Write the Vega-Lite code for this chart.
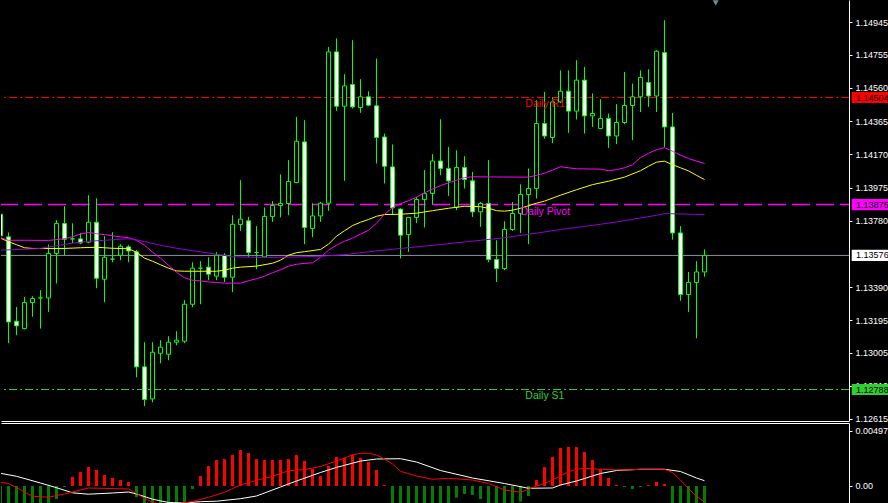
{
  "$schema": "https://vega.github.io/schema/vega-lite/v6.json",
  "background": "#000000",
  "padding": 0,
  "spacing": 2,
  "bounds": "flush",
  "resolve": {"scale": {"stroke": "independent", "fill": "independent", "x": "independent", "y": "independent"}},
  "config": {
    "view": {"stroke": null},
    "scale": {"continuousPadding": 0},
    "axis": {"grid": false, "title": null, "labelFont": "Liberation Sans", "labelFontSize": 9, "labelColor": "#ffffff", "domainColor": "#ffffff", "tickColor": "#ffffff", "labelOverlap": false, "labelBound": false},
    "text": {"font": "Liberation Sans"}
  },
  "datasets": {
    "candles": [
      {"n":0,"o":1.13818,"h":1.13842,"l":1.13677,"c":1.13691},
      {"n":1,"o":1.13685,"h":1.13711,"l":1.13060,"c":1.13185},
      {"n":2,"o":1.13189,"h":1.13273,"l":1.13107,"c":1.13162},
      {"n":3,"o":1.13146,"h":1.13332,"l":1.13142,"c":1.13299},
      {"n":4,"o":1.13299,"h":1.13336,"l":1.13215,"c":1.13323},
      {"n":5,"o":1.13326,"h":1.13372,"l":1.13146,"c":1.13326},
      {"n":6,"o":1.13326,"h":1.13640,"l":1.13244,"c":1.13587},
      {"n":7,"o":1.13587,"h":1.13783,"l":1.13411,"c":1.13764},
      {"n":8,"o":1.13764,"h":1.13865,"l":1.13577,"c":1.13671},
      {"n":9,"o":1.13673,"h":1.13765,"l":1.13648,"c":1.13673},
      {"n":10,"o":1.13673,"h":1.13707,"l":1.13642,"c":1.13649},
      {"n":11,"o":1.13654,"h":1.13930,"l":1.13648,"c":1.13771},
      {"n":12,"o":1.13771,"h":1.13912,"l":1.13383,"c":1.13442},
      {"n":13,"o":1.13436,"h":1.13689,"l":1.13301,"c":1.13565},
      {"n":14,"o":1.13554,"h":1.13712,"l":1.13536,"c":1.13554},
      {"n":15,"o":1.13577,"h":1.13642,"l":1.13548,"c":1.13630},
      {"n":16,"o":1.13626,"h":1.13636,"l":1.13536,"c":1.13602},
      {"n":17,"o":1.13597,"h":1.13607,"l":1.12860,"c":1.12921},
      {"n":18,"o":1.12921,"h":1.13066,"l":1.12690,"c":1.12729},
      {"n":19,"o":1.12733,"h":1.13066,"l":1.12713,"c":1.13007},
      {"n":20,"o":1.13001,"h":1.13078,"l":1.12942,"c":1.13037},
      {"n":21,"o":1.12995,"h":1.13101,"l":1.12960,"c":1.13066},
      {"n":22,"o":1.13066,"h":1.13131,"l":1.13048,"c":1.13078},
      {"n":23,"o":1.13072,"h":1.13313,"l":1.13060,"c":1.13289},
      {"n":24,"o":1.13289,"h":1.13536,"l":1.13272,"c":1.13501},
      {"n":25,"o":1.13501,"h":1.13542,"l":1.13289,"c":1.13501},
      {"n":26,"o":1.13507,"h":1.13565,"l":1.13430,"c":1.13466},
      {"n":27,"o":1.13454,"h":1.13595,"l":1.13430,"c":1.13577},
      {"n":28,"o":1.13577,"h":1.13589,"l":1.13419,"c":1.13448},
      {"n":29,"o":1.13448,"h":1.13812,"l":1.13360,"c":1.13759},
      {"n":30,"o":1.13758,"h":1.14018,"l":1.13720,"c":1.13789},
      {"n":31,"o":1.13779,"h":1.13802,"l":1.13567,"c":1.13593},
      {"n":32,"o":1.13593,"h":1.13748,"l":1.13495,"c":1.13593},
      {"n":33,"o":1.13567,"h":1.13858,"l":1.13565,"c":1.13805},
      {"n":34,"o":1.13805,"h":1.13895,"l":1.13773,"c":1.13869},
      {"n":35,"o":1.13869,"h":1.14053,"l":1.13799,"c":1.13881},
      {"n":36,"o":1.13881,"h":1.14136,"l":1.13812,"c":1.14010},
      {"n":37,"o":1.14004,"h":1.14390,"l":1.14000,"c":1.14247},
      {"n":38,"o":1.14243,"h":1.14371,"l":1.13642,"c":1.13740},
      {"n":39,"o":1.13734,"h":1.13883,"l":1.13683,"c":1.13808},
      {"n":40,"o":1.13808,"h":1.13890,"l":1.13773,"c":1.13883},
      {"n":41,"o":1.13883,"h":1.14801,"l":1.13838,"c":1.14772},
      {"n":42,"o":1.14772,"h":1.14851,"l":1.14425,"c":1.14453},
      {"n":43,"o":1.14453,"h":1.14641,"l":1.14014,"c":1.14572},
      {"n":44,"o":1.14580,"h":1.14841,"l":1.14439,"c":1.14449},
      {"n":45,"o":1.14445,"h":1.14612,"l":1.14414,"c":1.14508},
      {"n":46,"o":1.14508,"h":1.14541,"l":1.14453,"c":1.14459},
      {"n":47,"o":1.14455,"h":1.14733,"l":1.14116,"c":1.14269},
      {"n":48,"o":1.14272,"h":1.14292,"l":1.13999,"c":1.14100},
      {"n":49,"o":1.14096,"h":1.14228,"l":1.13816,"c":1.13855},
      {"n":50,"o":1.13848,"h":1.13853,"l":1.13558,"c":1.13695},
      {"n":51,"o":1.13699,"h":1.13801,"l":1.13597,"c":1.13799},
      {"n":52,"o":1.13799,"h":1.13920,"l":1.13767,"c":1.13905},
      {"n":53,"o":1.13905,"h":1.14077,"l":1.13740,"c":1.13940},
      {"n":54,"o":1.13940,"h":1.14171,"l":1.13877,"c":1.14131},
      {"n":55,"o":1.14131,"h":1.14376,"l":1.14047,"c":1.14087},
      {"n":56,"o":1.14087,"h":1.14214,"l":1.13926,"c":1.14014},
      {"n":57,"o":1.13858,"h":1.14194,"l":1.13842,"c":1.14093},
      {"n":58,"o":1.14093,"h":1.14159,"l":1.13969,"c":1.14022},
      {"n":59,"o":1.14014,"h":1.14067,"l":1.13802,"c":1.13832},
      {"n":60,"o":1.13832,"h":1.13890,"l":1.13744,"c":1.13881},
      {"n":61,"o":1.13881,"h":1.14136,"l":1.13536,"c":1.13552},
      {"n":62,"o":1.13552,"h":1.13665,"l":1.13420,"c":1.13499},
      {"n":63,"o":1.13499,"h":1.13777,"l":1.13489,"c":1.13728},
      {"n":64,"o":1.13728,"h":1.13890,"l":1.13720,"c":1.13822},
      {"n":65,"o":1.13822,"h":1.13994,"l":1.13708,"c":1.13934},
      {"n":66,"o":1.13934,"h":1.14087,"l":1.13642,"c":1.13969},
      {"n":67,"o":1.13969,"h":1.14488,"l":1.13910,"c":1.14351},
      {"n":68,"o":1.14351,"h":1.14537,"l":1.14263,"c":1.14278},
      {"n":69,"o":1.14269,"h":1.14506,"l":1.14235,"c":1.14478},
      {"n":70,"o":1.14478,"h":1.14664,"l":1.14471,"c":1.14541},
      {"n":71,"o":1.14541,"h":1.14664,"l":1.14296,"c":1.14424},
      {"n":72,"o":1.14424,"h":1.14723,"l":1.14375,"c":1.14606},
      {"n":73,"o":1.14606,"h":1.14684,"l":1.14292,"c":1.14396},
      {"n":74,"o":1.14396,"h":1.14528,"l":1.14331,"c":1.14410},
      {"n":75,"o":1.14322,"h":1.14494,"l":1.14318,"c":1.14381},
      {"n":76,"o":1.14381,"h":1.14410,"l":1.14208,"c":1.14278},
      {"n":77,"o":1.14278,"h":1.14465,"l":1.14230,"c":1.14357},
      {"n":78,"o":1.14357,"h":1.14654,"l":1.14347,"c":1.14457},
      {"n":79,"o":1.14457,"h":1.14586,"l":1.14253,"c":1.14508},
      {"n":80,"o":1.14508,"h":1.14664,"l":1.14419,"c":1.14622},
      {"n":81,"o":1.14592,"h":1.14670,"l":1.14449,"c":1.14513},
      {"n":82,"o":1.14513,"h":1.14782,"l":1.14419,"c":1.14776},
      {"n":83,"o":1.14768,"h":1.14958,"l":1.14214,"c":1.14331},
      {"n":84,"o":1.14331,"h":1.14414,"l":1.13669,"c":1.13708},
      {"n":85,"o":1.13708,"h":1.13748,"l":1.13309,"c":1.13346},
      {"n":86,"o":1.13346,"h":1.13479,"l":1.13244,"c":1.13417},
      {"n":87,"o":1.13417,"h":1.13542,"l":1.13089,"c":1.13479},
      {"n":88,"o":1.13479,"h":1.13612,"l":1.13450,"c":1.13576}
    ],
    "ma": [
      {"s":"MA1","n":0,"p":1.13677},{"s":"MA1","n":1,"p":1.13657},{"s":"MA1","n":2,"p":1.13639},{"s":"MA1","n":3,"p":1.13621},{"s":"MA1","n":4,"p":1.13617},{"s":"MA1","n":8,"p":1.13617},{"s":"MA1","n":10,"p":1.13621},{"s":"MA1","n":12,"p":1.13624},{"s":"MA1","n":14,"p":1.13618},{"s":"MA1","n":16,"p":1.13615},{"s":"MA1","n":17,"p":1.13595},{"s":"MA1","n":18,"p":1.13560},{"s":"MA1","n":19,"p":1.13542},{"s":"MA1","n":20,"p":1.13521},{"s":"MA1","n":21,"p":1.13501},{"s":"MA1","n":22,"p":1.13485},{"s":"MA1","n":23,"p":1.13483},{"s":"MA1","n":27,"p":1.13483},{"s":"MA1","n":28,"p":1.13489},{"s":"MA1","n":29,"p":1.13501},{"s":"MA1","n":30,"p":1.13507},{"s":"MA1","n":32,"p":1.13513},{"s":"MA1","n":34,"p":1.13530},{"s":"MA1","n":35,"p":1.13548},{"s":"MA1","n":36,"p":1.13577},{"s":"MA1","n":37,"p":1.13592},{"s":"MA1","n":38,"p":1.13598},{"s":"MA1","n":40,"p":1.13611},{"s":"MA1","n":41,"p":1.13642},{"s":"MA1","n":42,"p":1.13689},{"s":"MA1","n":43,"p":1.13721},{"s":"MA1","n":44,"p":1.13751},{"s":"MA1","n":45,"p":1.13771},{"s":"MA1","n":46,"p":1.13787},{"s":"MA1","n":47,"p":1.13806},{"s":"MA1","n":48,"p":1.13816},{"s":"MA1","n":50,"p":1.13818},{"s":"MA1","n":52,"p":1.13824},{"s":"MA1","n":54,"p":1.13839},{"s":"MA1","n":56,"p":1.13853},{"s":"MA1","n":58,"p":1.13865},{"s":"MA1","n":60,"p":1.13862},{"s":"MA1","n":61,"p":1.13853},{"s":"MA1","n":62,"p":1.13839},{"s":"MA1","n":63,"p":1.13836},{"s":"MA1","n":64,"p":1.13842},{"s":"MA1","n":65,"p":1.13853},{"s":"MA1","n":66,"p":1.13868},{"s":"MA1","n":67,"p":1.13883},{"s":"MA1","n":68,"p":1.13895},{"s":"MA1","n":70,"p":1.13930},{"s":"MA1","n":72,"p":1.13962},{"s":"MA1","n":74,"p":1.13992},{"s":"MA1","n":76,"p":1.14012},{"s":"MA1","n":78,"p":1.14036},{"s":"MA1","n":80,"p":1.14074},{"s":"MA1","n":81,"p":1.14100},{"s":"MA1","n":82,"p":1.14124},{"s":"MA1","n":83,"p":1.14130},{"s":"MA1","n":84,"p":1.14109},{"s":"MA1","n":85,"p":1.14091},{"s":"MA1","n":86,"p":1.14073},{"s":"MA1","n":87,"p":1.14047},{"s":"MA1","n":88,"p":1.14022},
      {"s":"MA2","n":0,"p":1.13680},{"s":"MA2","n":1,"p":1.13665},{"s":"MA2","n":3,"p":1.13665},{"s":"MA2","n":6,"p":1.13664},{"s":"MA2","n":8,"p":1.13674},{"s":"MA2","n":9,"p":1.13686},{"s":"MA2","n":10,"p":1.13701},{"s":"MA2","n":11,"p":1.13711},{"s":"MA2","n":12,"p":1.13704},{"s":"MA2","n":13,"p":1.13698},{"s":"MA2","n":15,"p":1.13685},{"s":"MA2","n":16,"p":1.13680},{"s":"MA2","n":17,"p":1.13665},{"s":"MA2","n":18,"p":1.13636},{"s":"MA2","n":19,"p":1.13595},{"s":"MA2","n":20,"p":1.13560},{"s":"MA2","n":21,"p":1.13518},{"s":"MA2","n":22,"p":1.13477},{"s":"MA2","n":23,"p":1.13445},{"s":"MA2","n":24,"p":1.13430},{"s":"MA2","n":25,"p":1.13426},{"s":"MA2","n":26,"p":1.13420},{"s":"MA2","n":27,"p":1.13417},{"s":"MA2","n":28,"p":1.13413},{"s":"MA2","n":30,"p":1.13413},{"s":"MA2","n":31,"p":1.13427},{"s":"MA2","n":32,"p":1.13439},{"s":"MA2","n":33,"p":1.13454},{"s":"MA2","n":34,"p":1.13474},{"s":"MA2","n":35,"p":1.13492},{"s":"MA2","n":36,"p":1.13513},{"s":"MA2","n":37,"p":1.13524},{"s":"MA2","n":38,"p":1.13529},{"s":"MA2","n":39,"p":1.13532},{"s":"MA2","n":40,"p":1.13565},{"s":"MA2","n":41,"p":1.13607},{"s":"MA2","n":42,"p":1.13636},{"s":"MA2","n":43,"p":1.13659},{"s":"MA2","n":44,"p":1.13677},{"s":"MA2","n":45,"p":1.13701},{"s":"MA2","n":46,"p":1.13724},{"s":"MA2","n":47,"p":1.13765},{"s":"MA2","n":48,"p":1.13818},{"s":"MA2","n":49,"p":1.13856},{"s":"MA2","n":50,"p":1.13880},{"s":"MA2","n":51,"p":1.13897},{"s":"MA2","n":52,"p":1.13918},{"s":"MA2","n":53,"p":1.13944},{"s":"MA2","n":54,"p":1.13965},{"s":"MA2","n":55,"p":1.13986},{"s":"MA2","n":56,"p":1.14003},{"s":"MA2","n":57,"p":1.14018},{"s":"MA2","n":58,"p":1.14033},{"s":"MA2","n":59,"p":1.14038},{"s":"MA2","n":62,"p":1.14037},{"s":"MA2","n":66,"p":1.14036},{"s":"MA2","n":67,"p":1.14047},{"s":"MA2","n":68,"p":1.14059},{"s":"MA2","n":69,"p":1.14077},{"s":"MA2","n":70,"p":1.14097},{"s":"MA2","n":71,"p":1.14091},{"s":"MA2","n":72,"p":1.14085},{"s":"MA2","n":75,"p":1.14083},{"s":"MA2","n":76,"p":1.14074},{"s":"MA2","n":77,"p":1.14080},{"s":"MA2","n":78,"p":1.14091},{"s":"MA2","n":79,"p":1.14109},{"s":"MA2","n":80,"p":1.14150},{"s":"MA2","n":81,"p":1.14177},{"s":"MA2","n":82,"p":1.14197},{"s":"MA2","n":83,"p":1.14210},{"s":"MA2","n":84,"p":1.14188},{"s":"MA2","n":85,"p":1.14165},{"s":"MA2","n":86,"p":1.14146},{"s":"MA2","n":87,"p":1.14130},{"s":"MA2","n":88,"p":1.14116},
      {"s":"MA3","n":0,"p":1.13607},{"s":"MA3","n":3,"p":1.13612},{"s":"MA3","n":5,"p":1.13617},{"s":"MA3","n":7,"p":1.13633},{"s":"MA3","n":9,"p":1.13648},{"s":"MA3","n":11,"p":1.13659},{"s":"MA3","n":13,"p":1.13665},{"s":"MA3","n":15,"p":1.13671},{"s":"MA3","n":16,"p":1.13674},{"s":"MA3","n":17,"p":1.13668},{"s":"MA3","n":18,"p":1.13657},{"s":"MA3","n":20,"p":1.13636},{"s":"MA3","n":22,"p":1.13618},{"s":"MA3","n":25,"p":1.13597},{"s":"MA3","n":27,"p":1.13583},{"s":"MA3","n":29,"p":1.13568},{"s":"MA3","n":33,"p":1.13564},{"s":"MA3","n":37,"p":1.13567},{"s":"MA3","n":40,"p":1.13571},{"s":"MA3","n":43,"p":1.13580},{"s":"MA3","n":46,"p":1.13597},{"s":"MA3","n":50,"p":1.13617},{"s":"MA3","n":55,"p":1.13640},{"s":"MA3","n":60,"p":1.13665},{"s":"MA3","n":63,"p":1.13680},{"s":"MA3","n":67,"p":1.13707},{"s":"MA3","n":70,"p":1.13728},{"s":"MA3","n":75,"p":1.13759},{"s":"MA3","n":78,"p":1.13780},{"s":"MA3","n":82,"p":1.13812},{"s":"MA3","n":83,"p":1.13822},{"s":"MA3","n":88,"p":1.13816}
    ],
    "levels": [
      {"level":"R1","name":"Daily R1","price":1.14504},
      {"level":"Pivot","name":"Daily Pivot","price":1.13875},
      {"level":"S1","name":"Daily S1","price":1.12788},
      {"level":"Bid","name":"","price":1.13576}
    ],
    "hist": [
      {"n":0,"v":-0.0019},{"n":1,"v":-0.0021},{"n":2,"v":-0.0022},{"n":3,"v":-0.0022},{"n":4,"v":-0.0021},{"n":5,"v":-0.0019},{"n":6,"v":-0.0017},{"n":7,"v":-0.001171},{"n":8,"v":-0.00009},
      {"n":9,"v":0.000811},{"n":10,"v":0.001261},{"n":11,"v":0.001712},{"n":12,"v":0.001441},{"n":13,"v":0.000991},{"n":14,"v":0.000721},{"n":15,"v":0.000541},{"n":16,"v":0.00036},
      {"n":17,"v":-0.000991},{"n":18,"v":-0.0019},{"n":19,"v":-0.0024},{"n":20,"v":-0.0025},{"n":21,"v":-0.0024},{"n":22,"v":-0.0021},{"n":23,"v":-0.0017},{"n":24,"v":-0.00027},
      {"n":25,"v":0.000901},{"n":26,"v":0.001802},{"n":27,"v":0.002342},{"n":28,"v":0.002432},{"n":29,"v":0.002793},{"n":30,"v":0.003243},{"n":31,"v":0.002973},{"n":32,"v":0.002432},{"n":33,"v":0.002342},{"n":34,"v":0.002342},{"n":35,"v":0.002342},{"n":36,"v":0.002432},{"n":37,"v":0.002793},{"n":38,"v":0.002252},{"n":39,"v":0.001532},{"n":40,"v":0.000901},{"n":41,"v":0.001802},{"n":42,"v":0.002613},{"n":43,"v":0.002523},{"n":44,"v":0.002793},{"n":45,"v":0.002523},{"n":46,"v":0.002162},{"n":47,"v":0.001441},{"n":48,"v":0.00009},
      {"n":49,"v":-0.0018},{"n":50,"v":-0.0021},{"n":51,"v":-0.0022},{"n":52,"v":-0.0022},{"n":53,"v":-0.0021},{"n":54,"v":-0.0019},{"n":55,"v":-0.0018},{"n":56,"v":-0.0017},{"n":57,"v":-0.001054},{"n":58,"v":-0.000721},{"n":59,"v":-0.000811},{"n":60,"v":-0.001171},{"n":61,"v":-0.0018},{"n":62,"v":-0.0019},{"n":63,"v":-0.0019},{"n":64,"v":-0.0017},{"n":65,"v":-0.001414},{"n":66,"v":-0.000901},
      {"n":67,"v":0.000541},{"n":68,"v":0.001712},{"n":69,"v":0.002613},{"n":70,"v":0.003423},{"n":71,"v":0.003514},{"n":72,"v":0.003514},{"n":73,"v":0.003063},{"n":74,"v":0.002342},{"n":75,"v":0.001532},{"n":76,"v":0.000721},{"n":77,"v":0.00009},
      {"n":78,"v":-0.00009},{"n":79,"v":-0.00027},{"n":80,"v":-0.00009},{"n":81,"v":0.00009},{"n":82,"v":0.00036},{"n":83,"v":0.00018},
      {"n":84,"v":-0.0018},{"n":85,"v":-0.0024},{"n":86,"v":-0.0026},{"n":87,"v":-0.0026},{"n":88,"v":-0.0025}
    ],
    "sig": [
      {"s":"Main","n":0,"v":0.001144},{"s":"Main","n":2,"v":0.000874},{"s":"Main","n":5,"v":0.00027},{"s":"Main","n":7,"v":-0.000153},{"s":"Main","n":9,"v":-0.000613},{"s":"Main","n":11,"v":-0.000739},{"s":"Main","n":14,"v":-0.000631},{"s":"Main","n":16,"v":-0.000541},{"s":"Main","n":17,"v":-0.000721},{"s":"Main","n":19,"v":-0.001189},{"s":"Main","n":21,"v":-0.001486},{"s":"Main","n":23,"v":-0.001532},{"s":"Main","n":25,"v":-0.001414},{"s":"Main","n":27,"v":-0.001369},{"s":"Main","n":30,"v":-0.001144},{"s":"Main","n":32,"v":-0.000901},{"s":"Main","n":35,"v":-0.00009},{"s":"Main","n":37,"v":0.00045},{"s":"Main","n":40,"v":0.001216},{"s":"Main","n":42,"v":0.001676},{"s":"Main","n":45,"v":0.002243},{"s":"Main","n":47,"v":0.002432},{"s":"Main","n":50,"v":0.002459},{"s":"Main","n":52,"v":0.002162},{"s":"Main","n":55,"v":0.001396},{"s":"Main","n":59,"v":0.000721},{"s":"Main","n":63,"v":0.000225},{"s":"Main","n":66,"v":-0.000207},{"s":"Main","n":69,"v":-0.00018},{"s":"Main","n":70,"v":0.00009},{"s":"Main","n":72,"v":0.00045},{"s":"Main","n":75,"v":0.001126},{"s":"Main","n":77,"v":0.001396},{"s":"Main","n":80,"v":0.001505},{"s":"Main","n":83,"v":0.001505},{"s":"Main","n":85,"v":0.001306},{"s":"Main","n":87,"v":0.000721},{"s":"Main","n":88,"v":0.000477},
      {"s":"Signal","n":0,"v":0.000333},{"s":"Signal","n":1,"v":0.000225},{"s":"Signal","n":2,"v":-0.000135},{"s":"Signal","n":3,"v":-0.000541},{"s":"Signal","n":4,"v":-0.000919},{"s":"Signal","n":6,"v":-0.001009},{"s":"Signal","n":8,"v":-0.000721},{"s":"Signal","n":10,"v":-0.00036},{"s":"Signal","n":11,"v":-0.00018},{"s":"Signal","n":13,"v":-0.000216},{"s":"Signal","n":16,"v":-0.00027},{"s":"Signal","n":17,"v":-0.000676},{"s":"Signal","n":18,"v":-0.001108},{"s":"Signal","n":19,"v":-0.001468},{"s":"Signal","n":20,"v":-0.001667},{"s":"Signal","n":21,"v":-0.001712},{"s":"Signal","n":22,"v":-0.001622},{"s":"Signal","n":24,"v":-0.001396},{"s":"Signal","n":26,"v":-0.001018},{"s":"Signal","n":28,"v":-0.000568},{"s":"Signal","n":30,"v":0.00009},{"s":"Signal","n":32,"v":0.000505},{"s":"Signal","n":34,"v":0.000874},{"s":"Signal","n":36,"v":0.001369},{"s":"Signal","n":38,"v":0.001477},{"s":"Signal","n":40,"v":0.001757},{"s":"Signal","n":42,"v":0.002252},{"s":"Signal","n":44,"v":0.002811},{"s":"Signal","n":45,"v":0.002946},{"s":"Signal","n":46,"v":0.002946},{"s":"Signal","n":47,"v":0.002793},{"s":"Signal","n":48,"v":0.002432},{"s":"Signal","n":49,"v":0.001982},{"s":"Signal","n":50,"v":0.001324},{"s":"Signal","n":52,"v":0.000901},{"s":"Signal","n":54,"v":0.000604},{"s":"Signal","n":56,"v":0.000694},{"s":"Signal","n":59,"v":0.000541},{"s":"Signal","n":61,"v":0.000225},{"s":"Signal","n":63,"v":-0.00036},{"s":"Signal","n":65,"v":-0.000568},{"s":"Signal","n":67,"v":0.0},{"s":"Signal","n":68,"v":0.000225},{"s":"Signal","n":69,"v":0.000541},{"s":"Signal","n":71,"v":0.001288},{"s":"Signal","n":72,"v":0.001495},{"s":"Signal","n":73,"v":0.001595},{"s":"Signal","n":75,"v":0.001505},{"s":"Signal","n":78,"v":0.001441},{"s":"Signal","n":80,"v":0.001505},{"s":"Signal","n":83,"v":0.001505},{"s":"Signal","n":84,"v":0.001216},{"s":"Signal","n":85,"v":0.000541},{"s":"Signal","n":86,"v":-0.000225},{"s":"Signal","n":87,"v":-0.000946},{"s":"Signal","n":88,"v":-0.001414}
    ]
  },
  "vconcat": [
    {
      "width": 848,
      "height": 421,
      "layer": [
        {
          "data": {"name": "levels"},
          "transform": [{"filter": "datum.level == 'R1'"}],
          "mark": {"type": "rule", "color": "#ff0000", "strokeWidth": 1, "strokeDash": [8, 3, 2, 3]},
          "encoding": {
            "y": {"field": "price", "type": "quantitative", "scale": {"domain": [1.126029, 1.15077], "nice": false, "zero": false, "padding": 0}, "axis": {"orient": "right", "values": [1.14945, 1.14755, 1.1456, 1.14365, 1.1417, 1.13975, 1.1378, 1.1339, 1.13195, 1.13005, 1.1281, 1.12615], "tickCount": 30, "format": ".5f", "tickSize": 3, "labelPadding": 3, "labelOverlap": false, "labelBound": false}}
          }
        },
        {
          "data": {"name": "levels"},
          "transform": [{"filter": "datum.level == 'S1'"}],
          "mark": {"type": "rule", "color": "#32cd32", "strokeWidth": 1, "strokeDash": [8, 3, 2, 3]},
          "encoding": {"y": {"field": "price", "type": "quantitative"}}
        },
        {
          "data": {"name": "levels"},
          "transform": [{"filter": "datum.level == 'Pivot'"}],
          "mark": {"type": "rule", "color": "#ff00ff", "strokeWidth": 1.5, "strokeDash": [18, 6], "strokeDashOffset": 9},
          "encoding": {"y": {"field": "price", "type": "quantitative"}}
        },
        {
          "data": {"name": "levels"},
          "transform": [{"filter": "datum.level == 'Bid'"}],
          "mark": {"type": "rule", "color": "#8a949e", "strokeWidth": 1},
          "encoding": {"y": {"field": "price", "type": "quantitative"}}
        },
        {
          "data": {"name": "candles"},
          "mark": {"type": "rule", "color": "#00ff00", "strokeWidth": 1, "clip": true},
          "encoding": {
            "x": {"field": "n", "type": "quantitative", "scale": {"domain": [0.0625, 106.0625], "nice": false, "zero": false, "padding": 0}, "axis": {"orient": "bottom", "labels": false, "ticks": false, "domain": true, "domainColor": "#ffffff"}},
            "y": {"field": "l", "type": "quantitative"},
            "y2": {"field": "h"}
          }
        },
        {
          "data": {"name": "candles"},
          "mark": {"type": "bar", "size": 4, "stroke": "#00ff00", "strokeWidth": 1, "clip": true},
          "encoding": {
            "x": {"field": "n", "type": "quantitative"},
            "y": {"field": "o", "type": "quantitative"},
            "y2": {"field": "c"},
            "fill": {"condition": {"test": "datum.o > datum.c", "value": "#ffffff"}, "value": "#000000"}
          }
        },
        {
          "data": {"name": "ma"},
          "mark": {"type": "line", "strokeWidth": 1, "clip": true},
          "encoding": {
            "x": {"field": "n", "type": "quantitative"},
            "y": {"field": "p", "type": "quantitative"},
            "detail": {"field": "s"},
            "stroke": {"field": "s", "type": "nominal", "scale": {"domain": ["MA1", "MA2", "MA3"], "range": ["#ffff00", "#ff00ff", "#9400d3"]}, "legend": null}
          }
        },
        {
          "data": {"name": "levels"},
          "transform": [{"filter": "datum.level == 'R1' || datum.level == 'S1'"}],
          "mark": {"type": "text", "align": "left", "baseline": "top", "dy": 1, "fontSize": 10.5},
          "encoding": {
            "x": {"datum": 65.6, "type": "quantitative"},
            "y": {"field": "price", "type": "quantitative"},
            "text": {"field": "name"},
            "fill": {"field": "level", "type": "nominal", "scale": {"domain": ["R1", "Pivot", "S1", "Bid"], "range": ["#ff0000", "#ff00ff", "#32cd32", "#ffffff"]}, "legend": null}
          }
        },
        {
          "data": {"name": "levels"},
          "transform": [{"filter": "datum.level == 'Pivot'"}],
          "mark": {"type": "text", "align": "left", "baseline": "top", "dy": 2, "fontSize": 10.5},
          "encoding": {
            "x": {"datum": 65.0, "type": "quantitative"},
            "y": {"field": "price", "type": "quantitative"},
            "text": {"field": "name"},
            "fill": {"field": "level", "type": "nominal", "legend": null}
          }
        },
        {
          "data": {"name": "levels"},
          "mark": {"type": "point", "shape": "M-1,-0.28H1V0.28H-1Z", "size": 1600, "filled": true, "opacity": 1, "strokeWidth": 0},
          "encoding": {
            "x": {"datum": 108.9, "type": "quantitative"},
            "y": {"field": "price", "type": "quantitative"},
            "fill": {"field": "level", "type": "nominal", "legend": null}
          }
        },
        {
          "data": {"name": "levels"},
          "mark": {"type": "text", "align": "left", "baseline": "middle", "fontSize": 9, "color": "#000000"},
          "encoding": {
            "x": {"datum": 106.95, "type": "quantitative"},
            "y": {"field": "price", "type": "quantitative"},
            "text": {"field": "price", "type": "quantitative", "format": ".5f"}
          }
        },
        {
          "data": {"values": [{"marker": "shift"}]},
          "mark": {"type": "point", "shape": "triangle-down", "size": 36, "filled": true, "color": "#778899", "opacity": 1, "clip": true},
          "encoding": {
            "x": {"datum": 89.4, "type": "quantitative"},
            "y": {"datum": 1.1506, "type": "quantitative"}
          }
        }
      ]
    },
    {
      "width": 848,
      "height": 80,
      "layer": [
        {
          "data": {"name": "hist"},
          "mark": {"type": "bar", "size": 3, "clip": true},
          "encoding": {
            "x": {"field": "n", "type": "quantitative", "scale": {"domain": [0.0625, 106.0625], "nice": false, "zero": false, "padding": 0}, "axis": {"orient": "top", "labels": false, "ticks": false, "domain": true, "domainColor": "#ffffff"}},
            "y": {"field": "v", "type": "quantitative", "scale": {"domain": [-0.001532, 0.005676], "nice": false, "zero": false, "padding": 0}, "axis": {"orient": "right", "values": [0, 0.004978], "labelExpr": "datum.value == 0 ? '0.00' : '0.004978'", "tickSize": 3, "labelPadding": 3, "labelOverlap": false, "labelBound": false}},
            "color": {"condition": {"test": "datum.v > 0", "value": "#ff0000"}, "value": "#008000"}
          }
        },
        {
          "data": {"name": "sig"},
          "mark": {"type": "line", "strokeWidth": 1, "clip": true},
          "encoding": {
            "x": {"field": "n", "type": "quantitative"},
            "y": {"field": "v", "type": "quantitative"},
            "detail": {"field": "s"},
            "stroke": {"field": "s", "type": "nominal", "scale": {"domain": ["Main", "Signal"], "range": ["#ffffff", "#ff0000"]}, "legend": null}
          }
        }
      ]
    }
  ]
}
